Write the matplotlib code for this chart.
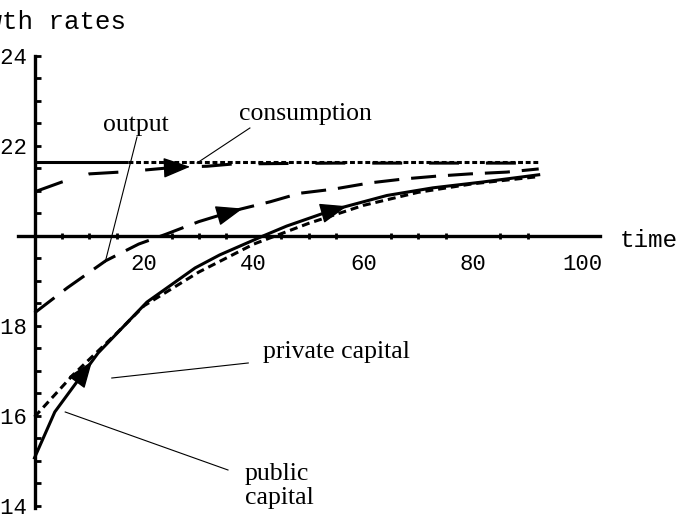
import numpy as np
import matplotlib
matplotlib.use('Agg')
import matplotlib.pyplot as plt
from matplotlib.ticker import FixedLocator, FuncFormatter

# growth rates (time, rate)
t_public = [0, 3.7, 11.6, 20.5, 29.3, 33.8, 41.7, 46, 54.5, 64.3, 72.7, 81.8, 92]
g_public = [0.01507, 0.01609, 0.0174, 0.01853, 0.01929, 0.01958, 0.0200,
            0.02022, 0.02058, 0.0209, 0.02107, 0.0212, 0.02136]

t_private = [0, 7, 15, 20, 30, 40, 50, 60, 70, 80, 92]
g_private = [0.01598, 0.01691, 0.01784, 0.01845, 0.0192, 0.01982, 0.02028,
             0.02068, 0.02097, 0.02116, 0.02132]

t_output = [0, 6, 13, 19, 24, 30, 37, 43, 48.4, 54.5, 61.2, 67.6, 73.4, 79.5, 86.2, 92]
g_output = [0.01829, 0.01885, 0.01945, 0.01982, 0.02004, 0.02032, 0.02058, 0.02076,
            0.02095, 0.02104, 0.02118, 0.02127, 0.02133, 0.02138, 0.02142, 0.02149]

t_cons = [0, 5, 10, 15.6, 20.5, 26, 31.5, 36.2, 45, 55, 70, 92]
g_cons = [0.02098, 0.0212, 0.02138, 0.02142, 0.02147, 0.02153, 0.02155, 0.0216,
          0.02161, 0.02162, 0.02162, 0.02162]

ss_rate = 0.02164
ss_t = [0, 17, 92]

fig = plt.figure(figsize=(6.79, 5.19), dpi=100)
ax = fig.add_axes([0, 0, 1, 1])
ax.set_xlim(-6.3, 117.6)
ax.set_ylim(0.013711, 0.025244)

lw = 2.2
# steady state line: solid start, then fine dashes
ax.plot(ss_t[:2], [ss_rate] * 2, color='black', lw=lw, solid_capstyle='butt')
ax.plot(ss_t[1:], [ss_rate] * 2, color='black', lw=lw, dashes=(1.6, 0.9))

ax.plot(t_cons, g_cons, color='black', lw=lw, dashes=(9.8, 8.8))
ax.plot(t_output, g_output, color='black', lw=lw, dashes=(8.2, 3.9))
ax.plot(t_private, g_private, color='black', lw=lw, dashes=(2.6, 1.6))
ax.plot(t_public, g_public, color='black', lw=lw)


def arrow_on(tt, gg, tip):
    ax.annotate('', xy=(tip, np.interp(tip, tt, gg)),
                xytext=(tip - 3, np.interp(tip - 3, tt, gg)),
                arrowprops=dict(arrowstyle='-|>,head_length=0.85,head_width=0.32',
                                mutation_scale=20, color='black', lw=1,
                                shrinkA=0, shrinkB=0))


arrow_on(t_cons, g_cons, 28.4)
arrow_on(t_output, g_output, 38)
arrow_on(t_public, g_public, 10.5)
arrow_on(t_public, g_public, 57)

# axes through the origin (0, 0.02)
for s in ['top', 'right']:
    ax.spines[s].set_visible(False)
ax.spines['left'].set_position(('data', 0))
ax.spines['bottom'].set_position(('data', 0.02))
ax.spines['left'].set_bounds(0.01395, 0.024)
ax.spines['bottom'].set_bounds(-3, 103.2)
ax.spines['left'].set_linewidth(2.4)
ax.spines['bottom'].set_linewidth(2.4)

ax.xaxis.set_major_locator(FixedLocator([20, 40, 60, 80, 100]))
ax.xaxis.set_minor_locator(FixedLocator(np.arange(5, 95, 5)))
ax.yaxis.set_major_locator(FixedLocator([0.014, 0.016, 0.018, 0.022, 0.024]))
ax.yaxis.set_minor_locator(FixedLocator(np.arange(0.014, 0.02401, 0.0005)))
ax.yaxis.set_major_formatter(FuncFormatter(lambda v, p: f'{v:.3f}'))
ax.tick_params(axis='x', which='major', length=0, pad=13)
ax.tick_params(axis='x', which='minor', direction='inout', length=5, width=2)
ax.tick_params(axis='y', which='both', direction='in', length=4.5, width=2, pad=5)
for lab in ax.get_xticklabels() + ax.get_yticklabels():
    lab.set_fontfamily('Liberation Mono')
    lab.set_fontsize(16)

ax.text(106.8, 0.01991, 'time', ha='left', va='center',
        family='Liberation Mono', fontsize=17.5)
ax.text(16.7, 0.024756, 'growth rates', ha='right', va='center',
        family='Liberation Mono', fontsize=18.5)

serif = dict(family='Liberation Serif', fontsize=18.5)
ax.text(18.5, 0.022467, 'output', ha='center', va='center', **serif)
ax.text(49.5, 0.02271, 'consumption', ha='center', va='center', **serif)
ax.text(41.7, 0.01742, 'private capital', ha='left', va='center', **serif)
ax.text(38.4, 0.01445, 'public\ncapital', ha='left', va='center',
        linespacing=1.1, **serif)

thin = dict(color='black', lw=0.8)
ax.plot([18.7, 12.9], [0.0222, 0.019422], **thin)
ax.plot([39.3, 29.65], [0.0224, 0.021622], **thin)
ax.plot([39.0, 14.1], [0.017178, 0.016844], **thin)
ax.plot([35.3, 5.6], [0.0148, 0.016089], **thin)

fig.savefig('out.png', dpi=100)
